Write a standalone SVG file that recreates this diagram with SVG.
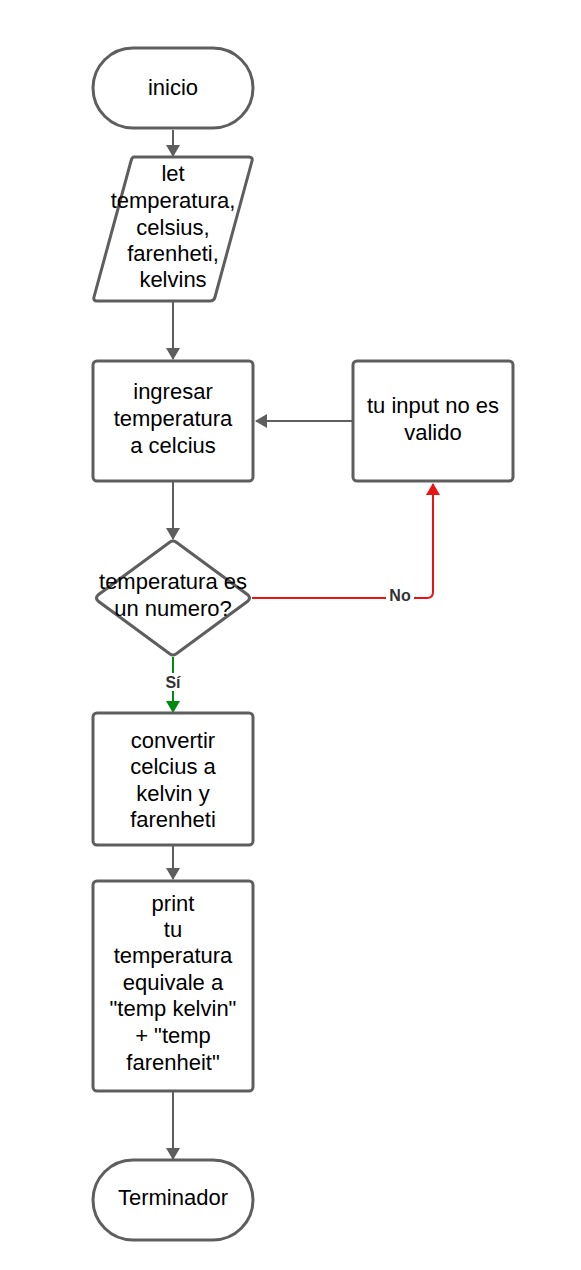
<svg xmlns="http://www.w3.org/2000/svg" width="581" height="1270" viewBox="0 0 581 1270">
<style>
.s{fill:#fff;stroke:#5e5e5e;stroke-width:3}
.t{font-family:"Liberation Sans",Arial,sans-serif;font-size:22px;fill:#000;text-anchor:middle}
.c{fill:none;stroke:#5e5e5e;stroke-width:2}
.l{font-family:"Liberation Sans",Arial,sans-serif;font-size:16px;font-weight:bold;fill:#333;text-anchor:middle}
</style>
<defs>
<marker id="ag" markerWidth="12" markerHeight="14" refX="11" refY="7" orient="auto" markerUnits="userSpaceOnUse"><path d="M0,0 L12,7 L0,14 z" fill="#5e5e5e"/></marker>
<marker id="ar" markerWidth="12" markerHeight="14" refX="11" refY="7" orient="auto" markerUnits="userSpaceOnUse"><path d="M0,0 L12,7 L0,14 z" fill="#e81313"/></marker>
<marker id="av" markerWidth="12" markerHeight="14" refX="11" refY="7" orient="auto" markerUnits="userSpaceOnUse"><path d="M0,0 L12,7 L0,14 z" fill="#008a0e"/></marker>
</defs>
<rect width="581" height="1270" fill="#fff"/>
<g id="connectors">
<path class="c" d="M173,130 V156" marker-end="url(#ag)"/>
<path class="c" d="M173,302 V359" marker-end="url(#ag)"/>
<path class="c" d="M352,421 H256" marker-end="url(#ag)"/>
<path class="c" d="M173,482 V539" marker-end="url(#ag)"/>
<path d="M252,598 H427 Q433,598 433,592 V484" fill="none" stroke="#e81313" stroke-width="2" marker-end="url(#ar)"/>
<rect x="386" y="587" width="28" height="18" fill="#fff"/>
<text class="l" x="400" y="601">No</text>
<path d="M173,657 V712" fill="none" stroke="#008a0e" stroke-width="2" marker-end="url(#av)"/>
<rect x="162" y="673" width="22" height="18" fill="#fff"/>
<text class="l" x="173" y="688">Sí</text>
<path class="c" d="M173,846 V879" marker-end="url(#ag)"/>
<path class="c" d="M173,1092 V1159" marker-end="url(#ag)"/>
</g>
<g id="inicio">
<rect class="s" x="93" y="48" width="160" height="80" rx="40"/>
<text class="t" x="173" y="95">inicio</text>
</g>
<g id="declarar">
<path class="s" d="M134,157 H249 Q253,157 252,161 L215,297 Q214,301 210,301 H97 Q93,301 94,297 L131,161 Q132,157 134,157 z"/>
<text class="t" x="173" y="181">let</text>
<text class="t" x="173" y="208">temperatura,</text>
<text class="t" x="173" y="235">celsius,</text>
<text class="t" x="173" y="261">farenheti,</text>
<text class="t" x="173" y="287">kelvins</text>
</g>
<g id="ingresar">
<rect class="s" x="93" y="361" width="160" height="120" rx="4"/>
<text class="t" x="173" y="399">ingresar</text>
<text class="t" x="173" y="426">temperatura</text>
<text class="t" x="173" y="453">a celcius</text>
</g>
<g id="invalido">
<rect class="s" x="353" y="361" width="160" height="120" rx="4"/>
<text class="t" x="433" y="413">tu input no es</text>
<text class="t" x="433" y="440">valido</text>
</g>
<g id="decision">
<path class="s" d="M170,542 Q173,540 176,542 L248,595 Q251,598 248,601 L176,654 Q173,656 170,654 L98,601 Q95,598 98,595 z"/>
<text class="t" x="173" y="589">temperatura es</text>
<text class="t" x="173" y="616">un numero?</text>
</g>
<g id="convertir">
<rect class="s" x="93" y="713" width="160" height="132" rx="4"/>
<text class="t" x="173" y="748">convertir</text>
<text class="t" x="173" y="774">celcius a</text>
<text class="t" x="173" y="801">kelvin y</text>
<text class="t" x="173" y="827">farenheti</text>
</g>
<g id="print">
<rect class="s" x="93" y="881" width="160" height="210" rx="4"/>
<text class="t" x="173" y="911">print</text>
<text class="t" x="173" y="937">tu</text>
<text class="t" x="173" y="963">temperatura</text>
<text class="t" x="173" y="990">equivale a</text>
<text class="t" x="173" y="1016">"temp kelvin"</text>
<text class="t" x="173" y="1043">+ "temp</text>
<text class="t" x="173" y="1070">farenheit"</text>
</g>
<g id="terminador">
<rect class="s" x="93" y="1160" width="160" height="80" rx="40"/>
<text class="t" x="173" y="1205">Terminador</text>
</g>
</svg>
